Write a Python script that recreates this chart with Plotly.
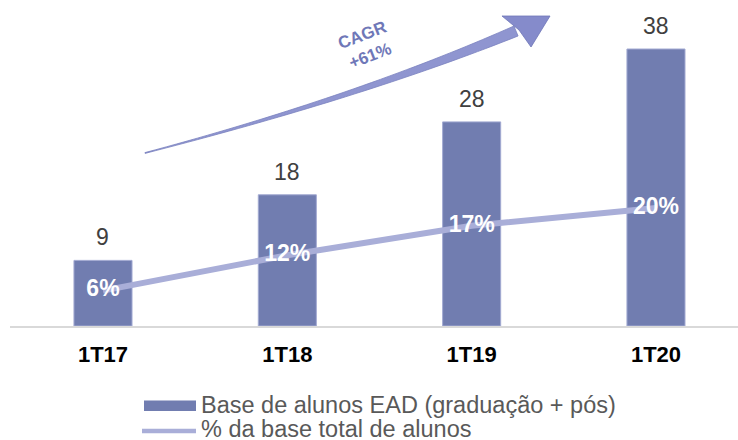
import plotly.graph_objects as go

categories = ["1T17", "1T18", "1T19", "1T20"]
base_ead = [9, 18, 28, 38]
pct_base = [6, 12, 17, 20]
pct_labels = ["6%", "12%", "17%", "20%"]
bar_name = "Base de alunos EAD (graduação + pós)"
line_name = "% da base total de alunos"
cagr_text = "<b>CAGR</b><br><b>+61%</b>"

W, H = 738, 440
ML, MR, MT, MB = 10, 0, 10, 114
PW, PH = W - ML - MR, H - MT - MB

BAR_C = "#717DB0"
LINE_C = "#A9AED8"
FONT = "Arial, Liberation Sans, sans-serif"


def px(x, y):
    return (x - ML) / PW, (H - MB - y) / PH


fig = go.Figure()
fig.add_trace(go.Bar(
    x=categories, y=base_ead, width=0.315,
    marker=dict(color=BAR_C, line=dict(color="#A3AAD2", width=1)),
    name=bar_name, showlegend=False, hoverinfo="skip",
))
fig.add_trace(go.Scatter(
    x=categories, y=pct_base, yaxis="y2", mode="lines+text",
    line=dict(color=LINE_C, width=6),
    text=["<b>%s</b>" % t for t in pct_labels], textposition="middle center",
    textfont=dict(family=FONT, size=23, color="white"),
    name=line_name, showlegend=False, hoverinfo="skip",
))

annotations = []
for c, v in zip(categories, base_ead):
    annotations.append(dict(
        x=c, y=v, xref="x", yref="y", text=str(v), showarrow=False,
        yanchor="middle", yshift=23,
        font=dict(family=FONT, size=23, color="#404040"),
    ))

# CAGR arrow (tapered curved shaft + head), in pixel coords converted to paper
P0, P1, P2 = (145, 153), (359, 97), (516, 31)
N = 40
upper, lower = [], []
for i in range(N + 1):
    t = i / N
    bx = (1 - t) ** 2 * P0[0] + 2 * (1 - t) * t * P1[0] + t ** 2 * P2[0]
    by = (1 - t) ** 2 * P0[1] + 2 * (1 - t) * t * P1[1] + t ** 2 * P2[1]
    dx = 2 * (1 - t) * (P1[0] - P0[0]) + 2 * t * (P2[0] - P1[0])
    dy = 2 * (1 - t) * (P1[1] - P0[1]) + 2 * t * (P2[1] - P1[1])
    ln = (dx * dx + dy * dy) ** 0.5
    nx, ny = -dy / ln, dx / ln
    w = 0.8 + 10.0 * t ** 1.3
    upper.append((bx + nx * w / 2, by + ny * w / 2))
    lower.append((bx - nx * w / 2, by - ny * w / 2))
pts = upper + lower[::-1]
path = "M " + " L ".join("%.4f,%.4f" % px(x, y) for x, y in pts) + " Z"
head_pts = [(502, 16), (550, 16), (531, 47), (519, 30)]
head = "M " + " L ".join("%.4f,%.4f" % px(x, y) for x, y in head_pts) + " Z"

shapes = [
    dict(type="path", xref="paper", yref="paper", path=path,
         fillcolor="#8F95D0", line=dict(color="#7A81BF", width=0.8), layer="above"),
    dict(type="path", xref="paper", yref="paper", path=head,
         fillcolor="#858BCB", line=dict(color="#6F76B8", width=0.8), layer="above"),
]

ax, ay = px(366, 45)
annotations.append(dict(
    x=ax, y=ay, xref="paper", yref="paper", text=cagr_text, showarrow=False,
    xanchor="center", yanchor="middle",
    textangle=-21, font=dict(family=FONT, size=17, color="#6F78B8"),
))

# custom legend
x0, y0 = px(144, 400.5)
x1, y1 = px(196, 411)
shapes.append(dict(type="rect", xref="paper", yref="paper", x0=x0, y0=y0, x1=x1, y1=y1,
                   fillcolor=BAR_C, line=dict(width=0)))
lx0, ly = px(142, 431)
lx1, _ = px(196, 431)
shapes.append(dict(type="line", xref="paper", yref="paper", x0=lx0, y0=ly, x1=lx1, y1=ly,
                   line=dict(color=LINE_C, width=4.5)))
tx, ty1 = px(199, 405)
_, ty2 = px(199, 428.5)
for txt, ty in [(bar_name, ty1), (line_name, ty2)]:
    annotations.append(dict(
        x=tx, y=ty, xref="paper", yref="paper", text=txt, showarrow=False,
        xanchor="left", yanchor="middle",
        font=dict(family=FONT, size=23.5, color="#595959"),
    ))

fig.update_layout(
    width=W, height=H,
    margin=dict(l=ML, r=MR, t=MT, b=MB, pad=0),
    paper_bgcolor="white", plot_bgcolor="white",
    showlegend=False,
    xaxis=dict(
        type="category", range=[-0.5045, 3.445],
        showline=True, linecolor="#D9D9D9", linewidth=2,
        showgrid=False, zeroline=False, ticks="",
        tickfont=dict(family=FONT, size=22, color="black"),
        ticktext=["<b>%s</b>" % c for c in categories], tickvals=categories,
        ticklabelstandoff=8,
    ),
    yaxis=dict(range=[0, 43.35], visible=False, showgrid=False, zeroline=False),
    yaxis2=dict(range=[0, 53.6], overlaying="y", visible=False, showgrid=False, zeroline=False),
    shapes=shapes, annotations=annotations,
)

fig.write_html("out.html", config={"displayModeBar": False},
               post_script="document.body.style.margin='0';")
